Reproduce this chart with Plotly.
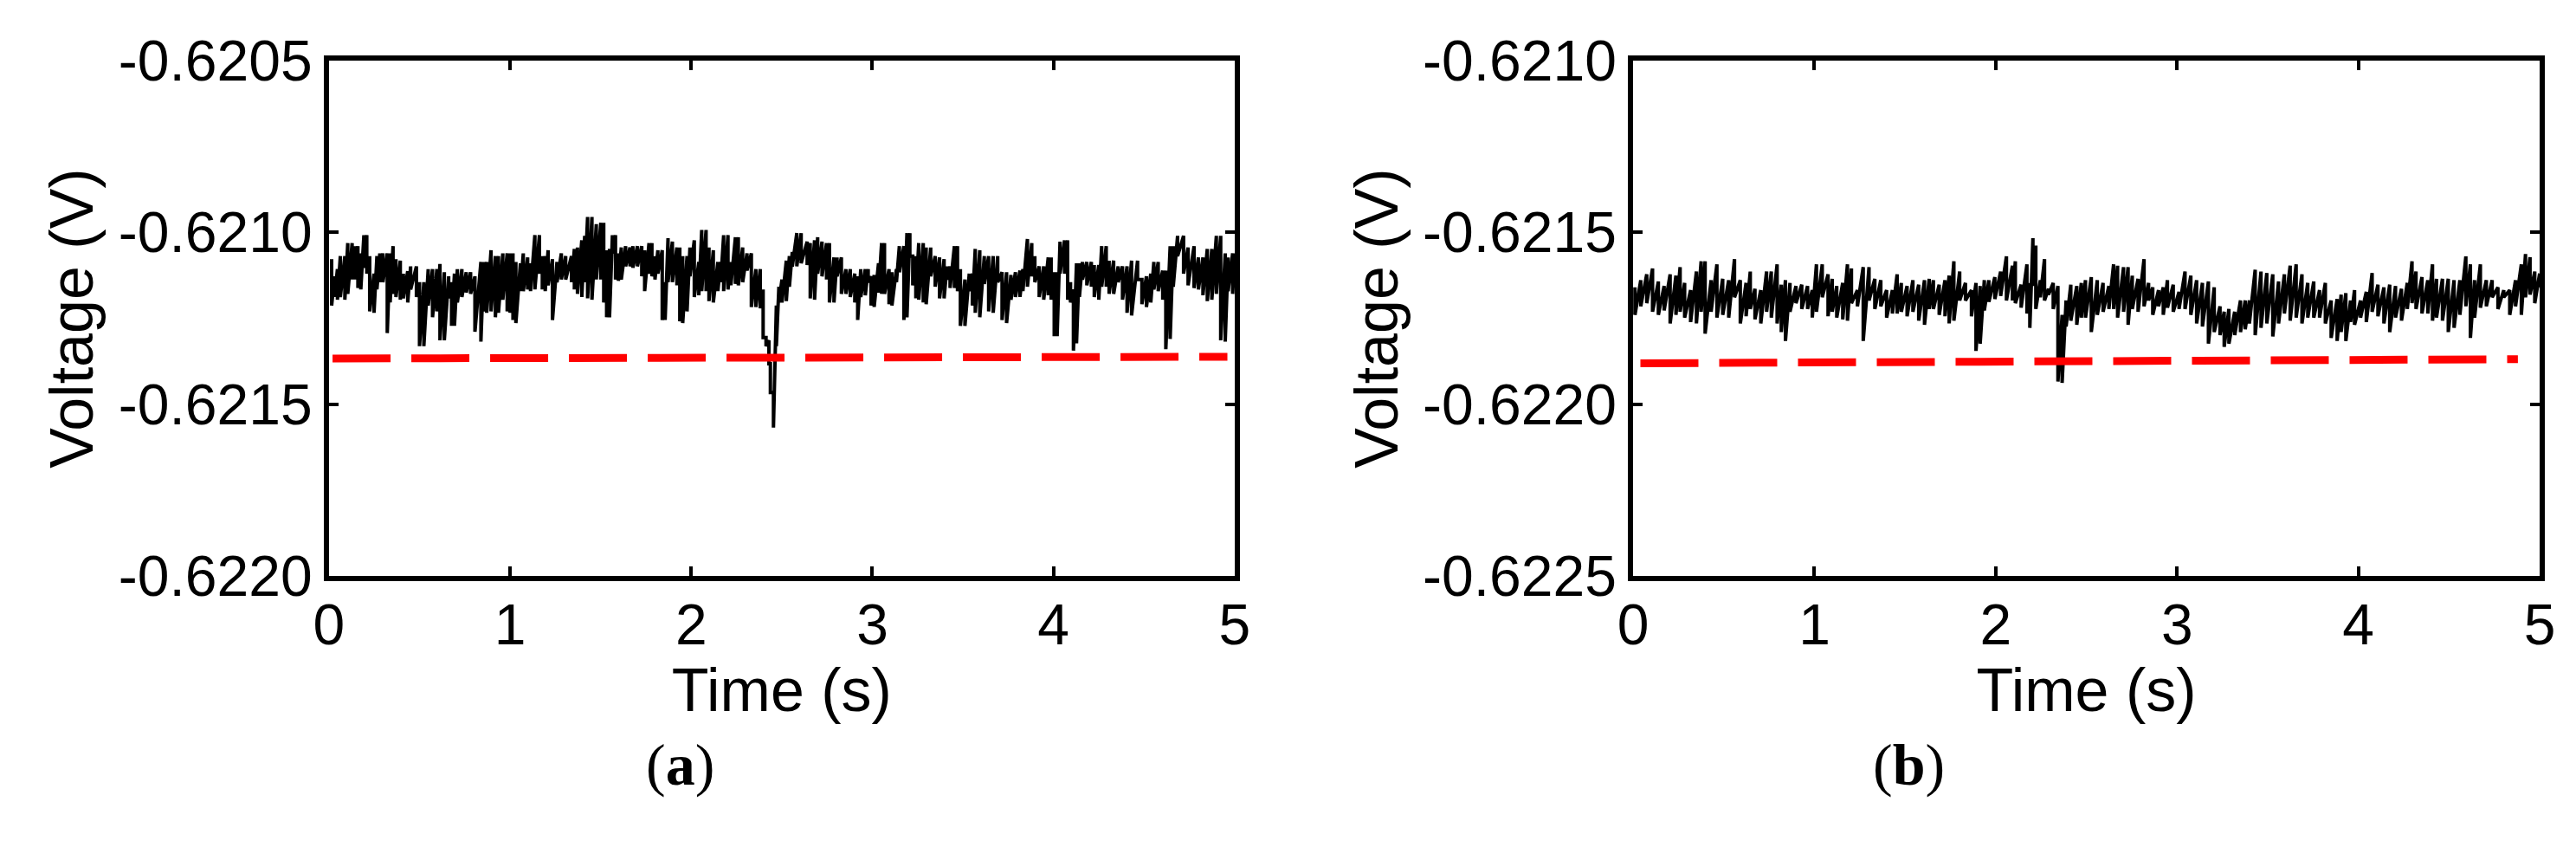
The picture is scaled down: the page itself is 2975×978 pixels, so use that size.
import plotly.graph_objects as go

a_time = [0.015, 0.031, 0.047, 0.063, 0.088, 0.104, 0.128, 0.144, 0.160, 0.176,
          0.193, 0.209, 0.225, 0.249, 0.265, 0.281, 0.298, 0.322, 0.338, 0.354,
          0.370, 0.394, 0.411, 0.435, 0.451, 0.483, 0.500, 0.524, 0.548, 0.572,
          0.596, 0.613, 0.637, 0.661, 0.677, 0.693, 0.709, 0.734, 0.758, 0.782,
          0.806, 0.839, 0.855, 0.871, 0.895, 0.919, 0.936, 0.960, 0.984, 1.000,
          1.016, 1.032, 1.057, 1.073, 1.097, 1.113, 1.137, 1.162, 1.178, 1.194,
          1.210, 1.234, 1.259, 1.283, 1.307, 1.339, 1.355, 1.372, 1.396, 1.412,
          1.428, 1.452, 1.476, 1.501, 1.517, 1.533, 1.549, 1.565, 1.582, 1.598,
          1.614, 1.638, 1.662, 1.678, 1.703, 1.727, 1.743, 1.767, 1.783, 1.800,
          1.816, 1.840, 1.856, 1.872, 1.896, 1.921, 1.937, 1.953, 1.977, 1.993,
          2.017, 2.042, 2.058, 2.082, 2.098, 2.122, 2.147, 2.163, 2.179, 2.203,
          2.219, 2.244, 2.260, 2.284, 2.308, 2.332, 2.357, 2.381, 2.397, 2.413,
          2.429, 2.437, 2.454, 2.470, 2.484, 2.501, 2.525, 2.542, 2.558, 2.583,
          2.607, 2.640, 2.657, 2.681, 2.698, 2.722, 2.747, 2.763, 2.788, 2.805,
          2.829, 2.854, 2.878, 2.903, 2.919, 2.936, 2.961, 2.977, 2.993, 3.010,
          3.034, 3.051, 3.067, 3.092, 3.108, 3.133, 3.149, 3.174, 3.191, 3.207,
          3.223, 3.240, 3.256, 3.281, 3.297, 3.322, 3.347, 3.371, 3.396, 3.412,
          3.429, 3.453, 3.470, 3.486, 3.511, 3.535, 3.552, 3.568, 3.593, 3.618,
          3.642, 3.667, 3.692, 3.716, 3.741, 3.765, 3.790, 3.815, 3.831, 3.856,
          3.880, 3.897, 3.921, 3.946, 3.971, 3.987, 4.004, 4.020, 4.036, 4.061,
          4.078, 4.094, 4.110, 4.127, 4.143, 4.160, 4.184, 4.209, 4.225, 4.250,
          4.266, 4.291, 4.307, 4.332, 4.357, 4.381, 4.406, 4.431, 4.464, 4.488,
          4.513, 4.537, 4.554, 4.578, 4.603, 4.620, 4.644, 4.661, 4.685, 4.718,
          4.743, 4.776, 4.800, 4.825, 4.849, 4.874, 4.899, 4.923, 4.948, 4.964,
          4.989, 5.000]
a_high = [-0.621078, -0.621128, -0.621107, -0.621069, -0.621069, -0.621031, -0.621031, -0.621040, -0.621040, -0.621061,
          -0.621008, -0.621008, -0.621069, -0.621120, -0.621069, -0.621061, -0.621061, -0.621061, -0.621061, -0.621040,
          -0.621078, -0.621082, -0.621120, -0.621113, -0.621099, -0.621099, -0.621145, -0.621145, -0.621107, -0.621107,
          -0.621107, -0.621092, -0.621116, -0.621128, -0.621145, -0.621120, -0.621107, -0.621107, -0.621116, -0.621116,
          -0.621128, -0.621086, -0.621086, -0.621086, -0.621052, -0.621069, -0.621069, -0.621061, -0.621061, -0.621061,
          -0.621061, -0.621086, -0.621090, -0.621061, -0.621073, -0.621090, -0.621008, -0.621008, -0.621069, -0.621069,
          -0.621052, -0.621078, -0.621086, -0.621061, -0.621069, -0.621069, -0.621048, -0.621044, -0.621023, -0.621010,
          -0.620955, -0.620955, -0.620976, -0.620972, -0.620972, -0.621052, -0.621048, -0.621008, -0.621008, -0.621061,
          -0.621044, -0.621040, -0.621044, -0.621040, -0.621040, -0.621040, -0.621052, -0.621031, -0.621031, -0.621069,
          -0.621052, -0.621052, -0.621145, -0.621017, -0.621027, -0.621044, -0.621044, -0.621069, -0.621069, -0.621044,
          -0.621023, -0.621086, -0.620993, -0.620993, -0.621044, -0.621052, -0.621086, -0.621086, -0.621008, -0.621008,
          -0.621086, -0.621014, -0.621014, -0.621044, -0.621061, -0.621061, -0.621107, -0.621107, -0.621166, -0.621306,
          -0.621314, -0.621382, -0.621466, -0.621213, -0.621158, -0.621137, -0.621082, -0.621069, -0.621057, -0.621002,
          -0.621002, -0.621027, -0.621031, -0.621023, -0.621014, -0.621027, -0.621031, -0.621031, -0.621073, -0.621073,
          -0.621073, -0.621107, -0.621107, -0.621120, -0.621128, -0.621107, -0.621107, -0.621107, -0.621128, -0.621124,
          -0.621090, -0.621031, -0.621031, -0.621107, -0.621116, -0.621107, -0.621040, -0.621040, -0.621002, -0.621002,
          -0.621069, -0.621069, -0.621031, -0.621031, -0.621044, -0.621044, -0.621069, -0.621073, -0.621078, -0.621099,
          -0.621099, -0.621040, -0.621040, -0.621107, -0.621137, -0.621120, -0.621120, -0.621048, -0.621052, -0.621069,
          -0.621069, -0.621069, -0.621069, -0.621116, -0.621116, -0.621124, -0.621116, -0.621111, -0.621107, -0.621019,
          -0.621031, -0.621069, -0.621099, -0.621099, -0.621073, -0.621073, -0.621116, -0.621116, -0.621027, -0.621023,
          -0.621023, -0.621145, -0.621166, -0.621090, -0.621090, -0.621086, -0.621086, -0.621086, -0.621095, -0.621095,
          -0.621040, -0.621040, -0.621082, -0.621082, -0.621099, -0.621099, -0.621099, -0.621082, -0.621082, -0.621137,
          -0.621128, -0.621120, -0.621086, -0.621086, -0.621111, -0.621111, -0.621040, -0.621040, -0.621010, -0.621010,
          -0.621044, -0.621040, -0.621073, -0.621073, -0.621048, -0.621048, -0.621010, -0.621010, -0.621061, -0.621073,
          -0.621061, -0.621061]
a_low = [-0.621213, -0.621188, -0.621196, -0.621188, -0.621196, -0.621179, -0.621137, -0.621137, -0.621162, -0.621166,
         -0.621103, -0.621120, -0.621230, -0.621234, -0.621166, -0.621145, -0.621145, -0.621293, -0.621204, -0.621179,
         -0.621188, -0.621196, -0.621192, -0.621204, -0.621166, -0.621188, -0.621331, -0.621331, -0.621213, -0.621247,
         -0.621230, -0.621314, -0.621314, -0.621192, -0.621272, -0.621272, -0.621204, -0.621188, -0.621175, -0.621179,
         -0.621289, -0.621318, -0.621230, -0.621234, -0.621230, -0.621247, -0.621234, -0.621196, -0.621230, -0.621234,
         -0.621255, -0.621264, -0.621171, -0.621171, -0.621166, -0.621171, -0.621166, -0.621120, -0.621166, -0.621171,
         -0.621154, -0.621255, -0.621145, -0.621137, -0.621137, -0.621145, -0.621166, -0.621179, -0.621188, -0.621145,
         -0.621192, -0.621196, -0.621137, -0.621137, -0.621204, -0.621247, -0.621247, -0.621061, -0.621137, -0.621141,
         -0.621137, -0.621099, -0.621099, -0.621103, -0.621099, -0.621128, -0.621171, -0.621120, -0.621128, -0.621137,
         -0.621120, -0.621255, -0.621255, -0.621145, -0.621145, -0.621154, -0.621259, -0.621264, -0.621230, -0.621128,
         -0.621188, -0.621183, -0.621171, -0.621171, -0.621200, -0.621204, -0.621171, -0.621145, -0.621171, -0.621166,
         -0.621154, -0.621150, -0.621154, -0.621145, -0.621111, -0.621217, -0.621217, -0.621221, -0.621306, -0.621331,
         -0.621382, -0.621466, -0.621568, -0.621331, -0.621204, -0.621204, -0.621200, -0.621158, -0.621099, -0.621099,
         -0.621090, -0.621095, -0.621192, -0.621196, -0.621120, -0.621128, -0.621137, -0.621204, -0.621204, -0.621128,
         -0.621179, -0.621179, -0.621188, -0.621204, -0.621255, -0.621188, -0.621183, -0.621145, -0.621213, -0.621217,
         -0.621175, -0.621179, -0.621179, -0.621209, -0.621213, -0.621145, -0.621116, -0.621255, -0.621247, -0.621069,
         -0.621154, -0.621192, -0.621196, -0.621204, -0.621209, -0.621128, -0.621158, -0.621192, -0.621192, -0.621137,
         -0.621162, -0.621162, -0.621171, -0.621272, -0.621272, -0.621171, -0.621213, -0.621234, -0.621247, -0.621150,
         -0.621230, -0.621234, -0.621145, -0.621255, -0.621264, -0.621196, -0.621188, -0.621188, -0.621171, -0.621158,
         -0.621128, -0.621145, -0.621188, -0.621196, -0.621183, -0.621196, -0.621302, -0.621302, -0.621120, -0.621120,
         -0.621196, -0.621204, -0.621344, -0.621323, -0.621188, -0.621137, -0.621154, -0.621158, -0.621188, -0.621196,
         -0.621158, -0.621158, -0.621179, -0.621179, -0.621145, -0.621196, -0.621234, -0.621242, -0.621137, -0.621209,
         -0.621217, -0.621204, -0.621166, -0.621171, -0.621196, -0.621340, -0.621310, -0.621158, -0.621069, -0.621120,
         -0.621154, -0.621162, -0.621166, -0.621183, -0.621200, -0.621196, -0.621179, -0.621314, -0.621318, -0.621171,
         -0.621179, -0.621103]

# --- Panel (b)
b_time = [0.010, 0.042, 0.075, 0.107, 0.139, 0.171, 0.204, 0.236, 0.259, 0.284,
          0.317, 0.349, 0.375, 0.397, 0.430, 0.462, 0.494, 0.527, 0.559, 0.591,
          0.623, 0.646, 0.672, 0.704, 0.736, 0.762, 0.794, 0.817, 0.840, 0.865,
          0.898, 0.930, 0.962, 0.988, 1.011, 1.043, 1.075, 1.098, 1.123, 1.156,
          1.182, 1.204, 1.237, 1.269, 1.301, 1.333, 1.366, 1.398, 1.430, 1.456,
          1.479, 1.511, 1.543, 1.575, 1.607, 1.633, 1.656, 1.688, 1.720, 1.743,
          1.769, 1.801, 1.833, 1.866, 1.891, 1.914, 1.937, 1.962, 1.995, 2.027,
          2.059, 2.092, 2.108, 2.140, 2.172, 2.188, 2.205, 2.221, 2.246, 2.269,
          2.291, 2.317, 2.343, 2.366, 2.388, 2.414, 2.447, 2.472, 2.495, 2.527,
          2.560, 2.592, 2.624, 2.650, 2.672, 2.705, 2.730, 2.753, 2.785, 2.818,
          2.843, 2.866, 2.898, 2.924, 2.947, 2.979, 3.011, 3.044, 3.076, 3.108,
          3.140, 3.173, 3.205, 3.237, 3.260, 3.286, 3.318, 3.350, 3.376, 3.399,
          3.431, 3.463, 3.495, 3.528, 3.560, 3.592, 3.624, 3.657, 3.689, 3.721,
          3.754, 3.786, 3.818, 3.850, 3.883, 3.905, 3.931, 3.957, 3.979, 4.012,
          4.044, 4.076, 4.108, 4.141, 4.173, 4.205, 4.238, 4.270, 4.296, 4.318,
          4.351, 4.383, 4.409, 4.431, 4.464, 4.496, 4.528, 4.560, 4.593, 4.618,
          4.641, 4.673, 4.706, 4.738, 4.770, 4.802, 4.835, 4.867, 4.899, 4.922,
          4.947, 4.973, 5.000]
b_high = [-0.621660, -0.621639, -0.621622, -0.621605, -0.621643, -0.621656, -0.621622, -0.621626, -0.621601, -0.621647,
          -0.621668, -0.621614, -0.621584, -0.621584, -0.621639, -0.621593, -0.621635, -0.621639, -0.621578, -0.621639,
          -0.621647, -0.621614, -0.621664, -0.621668, -0.621614, -0.621614, -0.621593, -0.621652, -0.621639, -0.621647,
          -0.621656, -0.621652, -0.621656, -0.621668, -0.621593, -0.621593, -0.621622, -0.621635, -0.621656, -0.621647,
          -0.621593, -0.621605, -0.621668, -0.621601, -0.621601, -0.621635, -0.621639, -0.621668, -0.621668, -0.621622,
          -0.621647, -0.621656, -0.621639, -0.621652, -0.621639, -0.621635, -0.621639, -0.621652, -0.621639, -0.621626,
          -0.621584, -0.621614, -0.621647, -0.621668, -0.621647, -0.621656, -0.621639, -0.621639, -0.621630, -0.621614,
          -0.621570, -0.621597, -0.621584, -0.621652, -0.621593, -0.621647, -0.621517, -0.621538, -0.621639, -0.621578,
          -0.621664, -0.621647, -0.621656, -0.621740, -0.621698, -0.621652, -0.621656, -0.621647, -0.621639, -0.621630,
          -0.621639, -0.621647, -0.621656, -0.621593, -0.621597, -0.621601, -0.621601, -0.621626, -0.621635, -0.621578,
          -0.621647, -0.621660, -0.621668, -0.621660, -0.621639, -0.621652, -0.621673, -0.621614, -0.621626, -0.621639,
          -0.621647, -0.621643, -0.621660, -0.621715, -0.621731, -0.621723, -0.621731, -0.621698, -0.621698, -0.621698,
          -0.621609, -0.621614, -0.621618, -0.621622, -0.621643, -0.621622, -0.621597, -0.621593, -0.621622, -0.621647,
          -0.621643, -0.621668, -0.621647, -0.621698, -0.621694, -0.621681, -0.621677, -0.621698, -0.621668, -0.621698,
          -0.621673, -0.621618, -0.621652, -0.621660, -0.621652, -0.621656, -0.621664, -0.621647, -0.621584, -0.621614,
          -0.621630, -0.621639, -0.621593, -0.621635, -0.621635, -0.621635, -0.621639, -0.621639, -0.621570, -0.621593,
          -0.621639, -0.621593, -0.621639, -0.621639, -0.621660, -0.621668, -0.621668, -0.621639, -0.621593, -0.621563,
          -0.621572, -0.621614, -0.621620]
b_low = [-0.621740, -0.621715, -0.621706, -0.621731, -0.621740, -0.621727, -0.621765, -0.621740, -0.621731, -0.621748,
         -0.621761, -0.621765, -0.621731, -0.621795, -0.621731, -0.621748, -0.621740, -0.621748, -0.621689, -0.621765,
         -0.621744, -0.621723, -0.621753, -0.621765, -0.621731, -0.621748, -0.621765, -0.621790, -0.621816, -0.621731,
         -0.621706, -0.621723, -0.621723, -0.621748, -0.621731, -0.621689, -0.621744, -0.621731, -0.621748, -0.621753,
         -0.621757, -0.621706, -0.621715, -0.621816, -0.621698, -0.621723, -0.621715, -0.621748, -0.621736, -0.621736,
         -0.621731, -0.621744, -0.621731, -0.621757, -0.621769, -0.621723, -0.621723, -0.621740, -0.621744, -0.621765,
         -0.621757, -0.621698, -0.621698, -0.621744, -0.621845, -0.621824, -0.621727, -0.621702, -0.621694, -0.621685,
         -0.621698, -0.621698, -0.621706, -0.621719, -0.621736, -0.621778, -0.621656, -0.621723, -0.621689, -0.621698,
         -0.621681, -0.621723, -0.621934, -0.621938, -0.621774, -0.621757, -0.621769, -0.621748, -0.621748, -0.621790,
         -0.621740, -0.621731, -0.621723, -0.621723, -0.621748, -0.621731, -0.621769, -0.621723, -0.621731, -0.621715,
         -0.621698, -0.621740, -0.621715, -0.621740, -0.621719, -0.621731, -0.621723, -0.621723, -0.621740, -0.621765,
         -0.621774, -0.621824, -0.621790, -0.621799, -0.621833, -0.621824, -0.621799, -0.621790, -0.621782, -0.621765,
         -0.621799, -0.621778, -0.621765, -0.621803, -0.621765, -0.621736, -0.621757, -0.621748, -0.621765, -0.621748,
         -0.621748, -0.621748, -0.621765, -0.621807, -0.621816, -0.621790, -0.621816, -0.621761, -0.621769, -0.621748,
         -0.621761, -0.621731, -0.621744, -0.621765, -0.621790, -0.621748, -0.621757, -0.621723, -0.621706, -0.621723,
         -0.621736, -0.621736, -0.621757, -0.621748, -0.621757, -0.621790, -0.621778, -0.621740, -0.621715, -0.621807,
         -0.621748, -0.621719, -0.621715, -0.621689, -0.621723, -0.621689, -0.621740, -0.621715, -0.621740, -0.621689,
         -0.621681, -0.621706, -0.621660]

# --- Threshold (red dashed) lines
a_thr_time = [0.02, 4.96]
a_thr_volt = [-0.621367, -0.621362]
b_thr_time = [0.04, 4.88]
b_thr_volt = [-0.621881, -0.621869]

x_ticks = [0, 1, 2, 3, 4, 5]
a_yticks = [-0.6220, -0.6215, -0.6210, -0.6205]
a_ylabels = ["-0.6220", "-0.6215", "-0.6210", "-0.6205"]
b_yticks = [-0.6225, -0.6220, -0.6215, -0.6210]
b_ylabels = ["-0.6225", "-0.6220", "-0.6215", "-0.6210"]


def envelope(times, high, low):
    # each station drawn as a vertical stroke from its high to its low value
    xs, ys = [], []
    for t, h, l in zip(times, high, low):
        xs += [t, t]
        ys += [h, l]
    return xs, ys


fig = go.Figure()

ax, ay = envelope(a_time, a_high, a_low)
fig.add_trace(go.Scatter(x=ax, y=ay, mode="lines", line=dict(color="black", width=4),
                         xaxis="x", yaxis="y", showlegend=False))
fig.add_trace(go.Scatter(x=a_thr_time, y=a_thr_volt, mode="lines",
                         line=dict(color="#ff0000", width=9, dash="67px,24px"),
                         xaxis="x", yaxis="y", showlegend=False))

bx, by = envelope(b_time, b_high, b_low)
fig.add_trace(go.Scatter(x=bx, y=by, mode="lines", line=dict(color="black", width=4),
                         xaxis="x2", yaxis="y2", showlegend=False))
fig.add_trace(go.Scatter(x=b_thr_time, y=b_thr_volt, mode="lines",
                         line=dict(color="#ff0000", width=9, dash="67px,24px"),
                         xaxis="x2", yaxis="y2", showlegend=False))

font_axis = dict(family="Liberation Sans, Arial, sans-serif", size=66, color="black")
font_title = dict(family="Liberation Sans, Arial, sans-serif", size=70, color="black")
font_panel = dict(family="Liberation Serif, Times New Roman, serif", size=68, color="black")

common_x = dict(range=[0, 5], tickvals=x_ticks, ticks="inside", ticklen=11, tickwidth=4,
                tickcolor="black", showline=True, linewidth=6, linecolor="black",
                mirror="allticks", showgrid=False, zeroline=False, tickfont=font_axis,
                automargin=False, ticklabelstandoff=-6,
                title=dict(text="Time (s)", font=font_title, standoff=6))
common_y = dict(ticks="inside", ticklen=11, tickwidth=4, tickcolor="black",
                showline=True, linewidth=6, linecolor="black", mirror="allticks",
                showgrid=False, zeroline=False, tickfont=font_axis, automargin=False,
                title=dict(text="Voltage (V)", font=font_title, standoff=8))

fig.update_layout(
    width=2975, height=978,
    margin=dict(l=0, r=0, t=0, b=0, autoexpand=False),
    paper_bgcolor="white", plot_bgcolor="white",
    xaxis=dict(domain=[0.1250, 0.4766], anchor="y", **common_x),
    yaxis=dict(domain=[0.3282, 0.9366], anchor="x", range=[-0.6220, -0.6205],
               tickvals=a_yticks, ticktext=a_ylabels, **common_y),
    xaxis2=dict(domain=[0.6313, 0.9832], anchor="y2", **common_x),
    yaxis2=dict(domain=[0.3282, 0.9366], anchor="x2", range=[-0.6225, -0.6210],
                tickvals=b_yticks, ticktext=b_ylabels, **common_y),
    annotations=[
        dict(text="(<b>a</b>)", x=736 / 2975, y=(978 - 915) / 978, xref="paper", yref="paper",
             showarrow=False, font=font_panel),
        dict(text="(<b>b</b>)", x=2240 / 2975, y=(978 - 915) / 978, xref="paper", yref="paper",
             showarrow=False, font=font_panel),
    ],
)

fig.write_html("out.html")
